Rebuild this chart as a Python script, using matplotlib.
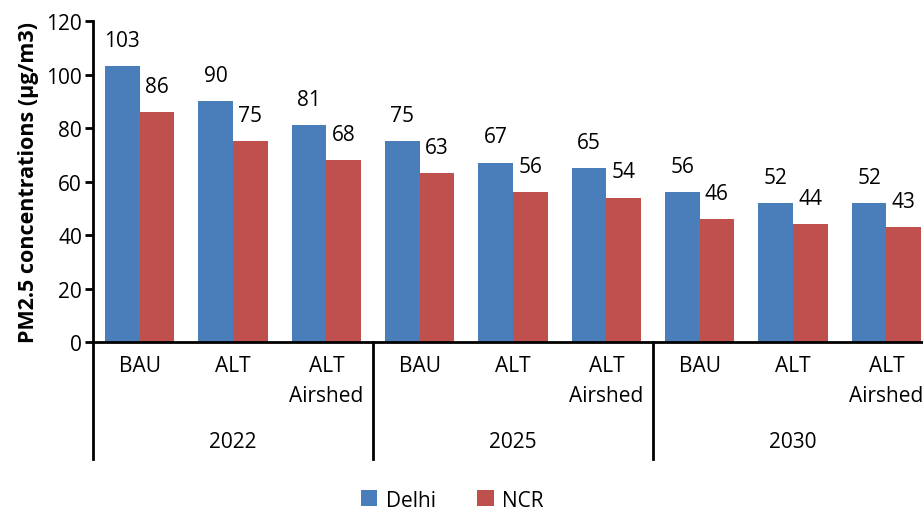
import numpy as np
import matplotlib
matplotlib.use('Agg')
import matplotlib.pyplot as plt
import matplotlib.transforms as mtrans

plt.rcParams['font.family'] = ['Open Sans', 'DejaVu Sans']

# data
years = ['2022', '2025', '2030']
scenarios = ['BAU', 'ALT', 'ALT\nAirshed']
delhi = [103, 90, 81, 75, 67, 65, 56, 52, 52]
ncr = [86, 75, 68, 63, 56, 54, 46, 44, 43]

fig = plt.figure(figsize=(9.23, 5.10), dpi=100)
ax = fig.add_axes([93/923, 1-343/510, 840/923, 321/510])

x = np.arange(len(delhi))
w = 0.37
b1 = ax.bar(x - w/2, delhi, w, color='#4a7ebb', label='Delhi')
b2 = ax.bar(x + w/2, ncr, w, color='#c0504d', label='NCR')

fs = 15
for bars in (b1, b2):
    for r in bars:
        ax.annotate('%d' % round(r.get_height()), (r.get_x() + r.get_width()/2, r.get_height()),
                    xytext=(0, 11), textcoords='offset points', ha='center', va='bottom', fontsize=fs)

ax.set_xlim(-0.5, 8.5)
ax.set_ylim(0, 120)
ax.set_yticks(range(0, 121, 20))
ax.tick_params(axis='y', labelsize=fs, width=2, length=6, direction='out', pad=2)
ax.set_xticks([])
for s in ['top', 'right']:
    ax.spines[s].set_visible(False)
ax.spines['left'].set_linewidth(2)
ax.spines['bottom'].set_linewidth(2)
ax.set_ylabel('PM2.5 concentrations (µg/m3)', fontsize=15.5, fontweight='bold', labelpad=5)

# multi-level category axis
trans = mtrans.blended_transform_factory(ax.transData, ax.transAxes)
px = 1/321.0
for i in range(len(delhi)):
    ax.text(i, -13*px, scenarios[i % 3], transform=trans, ha='center', va='top',
            fontsize=fs, linespacing=1.55)
for j, yr in enumerate(years):
    ax.text(3*j + 1, -99*px, yr, transform=trans, ha='center', va='center', fontsize=fs)
for sx in [-0.5, 2.5, 5.5, 8.5]:
    ax.plot([sx, sx], [0, -117*px], transform=trans, color='black', lw=2, clip_on=False)

fig.legend(loc='lower center', ncol=2, frameon=False, fontsize=fs, handlelength=0.8,
           handleheight=0.8, columnspacing=2.0, bbox_to_anchor=(0.49, -0.04), handletextpad=0.4)

fig.savefig('out.png', dpi=100)
